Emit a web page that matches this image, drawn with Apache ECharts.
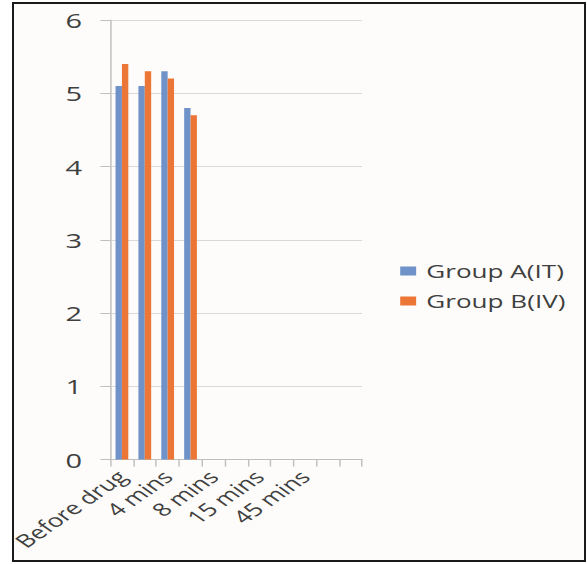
<!DOCTYPE html>
<html>
<head>
<meta charset="utf-8">
<script src="https://cdn.jsdelivr.net/npm/echarts@6/dist/echarts.min.js"></script>
<style>
  html, body { margin: 0; padding: 0; background: #ffffff; width: 587px; height: 564px; overflow: hidden; }
  #frame { position: absolute; left: 12px; top: 2px; width: 570px; height: 556px; border: 2px solid #1a1a1a; background: #fdfcfa; }
  /* the figure is drawn on a narrow canvas and widened horizontally */
  #chart { position: absolute; left: 0; top: 0; width: 405px; height: 564px; transform: scaleX(1.45); transform-origin: 0 0; }
</style>
</head>
<body>
<div id="frame"></div>
<div id="chart"></div>
<script>
// Time points (every other one is labelled on the axis; the last slot is blank)
const categories = ['Before drug', '2 mins', '4 mins', '6 mins', '8 mins', '10 mins',
                    '15 mins', '30 mins', '45 mins', '60 mins', ''];
const groupA = [5.1, 5.1, 5.3, 4.8, null, null, null, null, null, null, null];
const groupB = [5.4, 5.3, 5.2, 4.7, null, null, null, null, null, null, null];
const yTicks = { min: 0, max: 6, step: 1 };
const seriesNames = ['Group A(IT)', 'Group B(IV)'];

const FONT = '"Open Sans", "Liberation Sans", sans-serif';
const chart = echarts.init(document.getElementById('chart'), null, { renderer: 'svg' });

chart.setOption({
  animation: false,
  backgroundColor: 'transparent',
  color: ['#6f93c9', '#ec7635'],
  grid: { left: 76.2, top: 20, width: 173.5, height: 439.5, containLabel: false },
  legend: {
    orient: 'vertical',
    left: 271,
    top: 257,
    itemWidth: 11,
    itemHeight: 9,
    itemGap: 12,
    icon: 'rect',
    data: seriesNames,
    textStyle: { fontFamily: FONT, fontSize: 18, color: '#404040', padding: [0, 0, 0, 2] }
  },
  xAxis: {
    type: 'category',
    data: categories,
    boundaryGap: true,
    axisLine: { show: true, lineStyle: { color: '#bfbfbf', width: 1 } },
    axisTick: { show: true, interval: 0, length: 7, lineStyle: { color: '#bfbfbf' } },
    axisLabel: {
      interval: 1,
      rotate: 45,
      margin: 14,
      fontFamily: FONT,
      fontSize: 18,
      color: '#404040'
    },
    splitLine: { show: false }
  },
  yAxis: {
    type: 'value',
    min: yTicks.min,
    max: yTicks.max,
    interval: yTicks.step,
    axisLine: { show: true, lineStyle: { color: '#bfbfbf', width: 1 } },
    axisTick: { show: true, length: 7, lineStyle: { color: '#bfbfbf' } },
    axisLabel: { margin: 19.6, fontFamily: FONT, fontSize: 20, color: '#404040' },
    splitLine: { show: true, lineStyle: { color: '#d9d9d9', width: 1 } }
  },
  series: [
    { name: seriesNames[0], type: 'bar', data: groupA, barWidth: 4.4, barGap: '0%' },
    { name: seriesNames[1], type: 'bar', data: groupB, barWidth: 4.4, barGap: '0%' }
  ]
});
</script>
</body>
</html>
